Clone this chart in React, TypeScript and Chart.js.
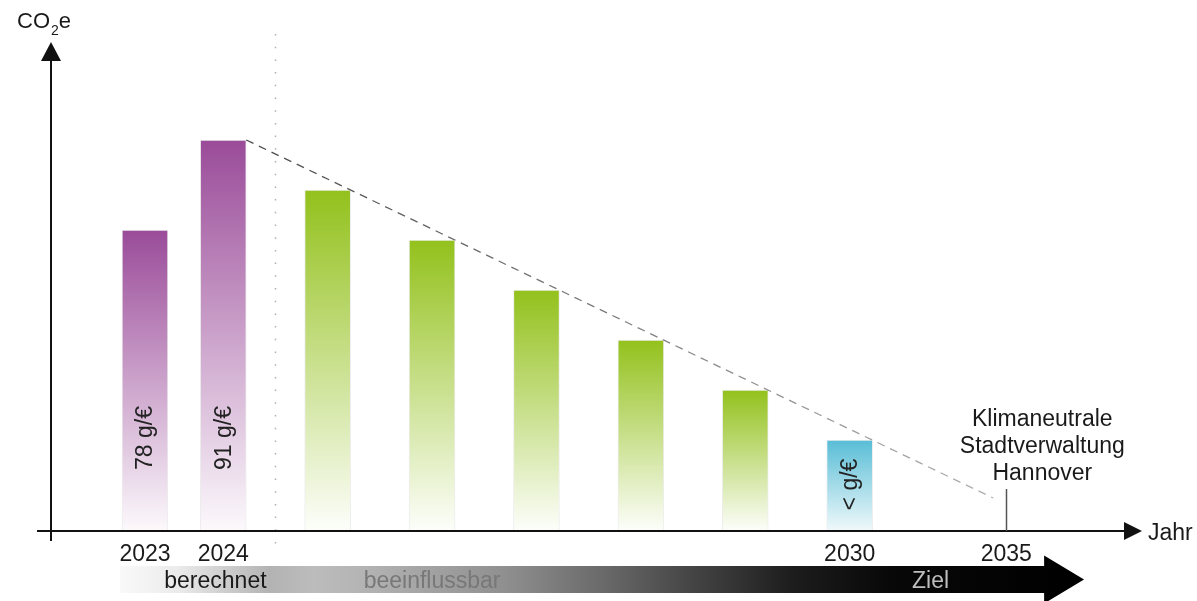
import React, { useEffect, useRef } from "react";
import { Chart, registerables } from "chart.js";

Chart.register(...registerables);

// ---- data ----
const years = ["2023", "2024", "2025", "2026", "2027", "2028", "2029", "2030"];
const yearSlots = [0, 3, 7, 11, 15, 19, 23, 27];
const emissionValues = [60.2, 78.2, 68.2, 58.2, 48.2, 38.2, 28.2, 18.2];
const barPhases = ["berechnet", "berechnet", "beeinflussbar", "beeinflussbar", "beeinflussbar", "beeinflussbar", "beeinflussbar", "ziel"];
const barTexts = ["78 g/€", "91 g/€", "", "", "", "", "", "< g/€"];
const tickLabels = ["2023", "2024", "2030", "2035"];
const tickSlots = [0, 3, 27, 33];
const trendSlots = [3.88, 32.5];
const trendValues = [78.2, 6.6];
const dividerSlot = 5;
const targetSlot = 33;
const targetValue = 8.4;
const targetLines = ["Klimaneutrale", "Stadtverwaltung", "Hannover"];
const phaseLabels = ["berechnet", "beeinflussbar", "Ziel"];
const phaseSlots = [2.7, 11, 30.1];

const FONT = '"Liberation Sans", Arial, sans-serif';

const phaseColors: Record<string, [string, string]> = {
  berechnet: ["#9a4b99", "#fcf9fc"],
  beeinflussbar: ["#93c11c", "#fdfefb"],
  ziel: ["#58bdd6", "#f0f9fb"],
};

const overlayPlugin = {
  id: "overlay",
  beforeDatasetsDraw(chart: any) {
    const { ctx, scales, chartArea } = chart;
    const x = Math.round(scales.x.getPixelForValue(dividerSlot)) + 0.5;
    ctx.save();
    ctx.strokeStyle = "#b0b0b0";
    ctx.lineWidth = 1.5;
    ctx.setLineDash([1.5, 11.2]);
    ctx.beginPath();
    ctx.moveTo(x, chartArea.top + 3);
    ctx.lineTo(x, chartArea.bottom + 22);
    ctx.stroke();
    ctx.restore();
  },
  afterDatasetsDraw(chart: any) {
    const { ctx, scales, chartArea } = chart;
    const xs = scales.x;
    const ys = scales.y;
    const axisY = ys.getPixelForValue(0);
    const axisX = chartArea.left;
    ctx.save();

    // x axis
    ctx.strokeStyle = "#111";
    ctx.fillStyle = "#111";
    ctx.lineWidth = 2;
    ctx.beginPath();
    ctx.moveTo(axisX - 14, axisY);
    ctx.lineTo(chartArea.right - 14, axisY);
    ctx.stroke();
    ctx.beginPath();
    ctx.moveTo(chartArea.right - 18, axisY - 9);
    ctx.lineTo(chartArea.right, axisY);
    ctx.lineTo(chartArea.right - 18, axisY + 9);
    ctx.closePath();
    ctx.fill();

    // y axis
    ctx.beginPath();
    ctx.moveTo(axisX, axisY + 10);
    ctx.lineTo(axisX, chartArea.top + 28);
    ctx.stroke();
    ctx.beginPath();
    ctx.moveTo(axisX - 10, chartArea.top + 30);
    ctx.lineTo(axisX, chartArea.top + 11);
    ctx.lineTo(axisX + 10, chartArea.top + 30);
    ctx.closePath();
    ctx.fill();

    // axis titles
    ctx.fillStyle = "#1a1a1a";
    ctx.font = `22px ${FONT}`;
    ctx.textAlign = "left";
    ctx.textBaseline = "alphabetic";
    ctx.fillText("CO", 17, 28);
    const coW = ctx.measureText("CO").width;
    ctx.font = `14px ${FONT}`;
    ctx.fillText("2", 17 + coW + 1, 35);
    const twoW = ctx.measureText("2").width;
    ctx.font = `22px ${FONT}`;
    ctx.fillText("e", 17 + coW + twoW + 1, 28);

    ctx.font = `23px ${FONT}`;
    ctx.fillText("Jahr", chartArea.right + 6, axisY + 9);

    // target tick
    const tx = Math.round(xs.getPixelForValue(targetSlot)) + 0.5;
    ctx.strokeStyle = "#555";
    ctx.lineWidth = 1.5;
    ctx.beginPath();
    ctx.moveTo(tx, ys.getPixelForValue(targetValue));
    ctx.lineTo(tx, axisY);
    ctx.stroke();

    // target text
    ctx.fillStyle = "#1a1a1a";
    ctx.font = `23px ${FONT}`;
    ctx.textAlign = "center";
    const tcx = xs.getPixelForValue(targetSlot + 1.38);
    targetLines.forEach((line, i) => {
      ctx.fillText(line, tcx, 426 + i * 27);
    });

    // tick labels
    tickLabels.forEach((lab, i) => {
      ctx.fillText(lab, xs.getPixelForValue(tickSlots[i]), axisY + 30);
    });

    // rotated bar texts
    ctx.font = `23px ${FONT}`;
    ctx.textBaseline = "middle";
    barTexts.forEach((t, i) => {
      if (!t) return;
      const cx = xs.getPixelForValue(yearSlots[i]);
      const top = ys.getPixelForValue(emissionValues[i]);
      const center = Math.max(438, (top + axisY) / 2 - 1);
      ctx.save();
      ctx.translate(cx, center);
      ctx.rotate(-Math.PI / 2);
      ctx.fillStyle = "#222";
      ctx.fillText(t, 0, 1);
      ctx.restore();
    });

    // bottom phase arrow
    const ax0 = xs.getPixelForValue(-0.95);
    const headX = xs.getPixelForValue(34.45);
    const tipX = xs.getPixelForValue(35.98);
    const bodyTop = axisY + 35;
    const bodyBot = axisY + 62;
    const midY = (bodyTop + bodyBot) / 2;
    const g = ctx.createLinearGradient(ax0, 0, tipX, 0);
    g.addColorStop(0, "#f9f9f9");
    g.addColorStop(0.06, "#ebebeb");
    g.addColorStop(0.155, "#b3b3b3");
    g.addColorStop(0.2, "#bcbcbc");
    g.addColorStop(0.25, "#b4b4b4");
    g.addColorStop(0.4, "#8f8f8f");
    g.addColorStop(0.5, "#6a6a6a");
    g.addColorStop(0.6, "#424242");
    g.addColorStop(0.7, "#1c1c1c");
    g.addColorStop(0.8, "#080808");
    g.addColorStop(1, "#000000");
    ctx.fillStyle = g;
    ctx.beginPath();
    ctx.moveTo(ax0, bodyTop);
    ctx.lineTo(headX, bodyTop);
    ctx.lineTo(headX, midY - 24);
    ctx.lineTo(tipX, midY);
    ctx.lineTo(headX, midY + 24);
    ctx.lineTo(headX, bodyBot);
    ctx.lineTo(ax0, bodyBot);
    ctx.closePath();
    ctx.fill();

    ctx.textAlign = "center";
    ctx.textBaseline = "alphabetic";
    ctx.font = `23px ${FONT}`;
    const phaseColorsText = ["#1a1a1a", "#787878", "#bdbdbd"];
    phaseLabels.forEach((lab, i) => {
      ctx.fillStyle = phaseColorsText[i];
      ctx.fillText(lab, xs.getPixelForValue(phaseSlots[i]), bodyBot - 5);
    });

    ctx.restore();
  },
};

export default function App() {
  const ref = useRef<HTMLCanvasElement | null>(null);

  useEffect(() => {
    if (!ref.current) return;
    const chart = new Chart(ref.current, {
      type: "bar",
      data: {
        datasets: [
          {
            type: "line",
            label: "Trend",
            data: trendSlots.map((s, i) => ({ x: s, y: trendValues[i] })),
            borderColor: (c: any) => {
              const ch = c.chart;
              if (!ch.chartArea) return "#777";
              const x0 = ch.scales.x.getPixelForValue(trendSlots[0]);
              const x1 = ch.scales.x.getPixelForValue(trendSlots[1]);
              const gr = ch.ctx.createLinearGradient(x0, 0, x1, 0);
              gr.addColorStop(0, "#4a4a4a");
              gr.addColorStop(1, "#b0b0b0");
              return gr;
            },
            borderWidth: 1.3,
            borderDash: [8, 6],
            pointRadius: 0,
            fill: false,
            order: 0,
          } as any,
          {
            type: "bar",
            label: "CO2e",
            data: yearSlots.map((s, i) => ({ x: s, y: emissionValues[i] })),
            backgroundColor: (c: any) => {
              const ch = c.chart;
              const i = c.dataIndex;
              if (!ch.chartArea || i == null) return "#ccc";
              const [top, bot] = phaseColors[barPhases[i]];
              const y0 = ch.scales.y.getPixelForValue(emissionValues[i]);
              const y1 = ch.scales.y.getPixelForValue(0);
              const gr = ch.ctx.createLinearGradient(0, y0, 0, y1);
              gr.addColorStop(0, top);
              gr.addColorStop(1, bot);
              return gr;
            },
            borderColor: "rgba(0,0,0,0.07)",
            borderWidth: 1,
            barThickness: 46,
            order: 1,
          } as any,
        ],
      },
      options: {
        animation: false,
        responsive: false,
        maintainAspectRatio: false,
        layout: { padding: { left: 51, right: 55, top: 31, bottom: 70 } },
        plugins: {
          legend: { display: false },
          tooltip: { enabled: false },
        },
        scales: {
          x: { type: "linear", min: -3.6, max: 38.2, display: false, offset: false },
          y: { type: "linear", min: 0, max: 100, display: false },
        },
      },
      plugins: [overlayPlugin],
    });
    return () => chart.destroy();
  }, []);

  return (
    <div style={{ position: "fixed", left: 0, top: 0, width: 1197, height: 601, background: "#fff" }}>
      <canvas ref={ref} width={1197} height={601} style={{ display: "block" }} />
    </div>
  );
}
